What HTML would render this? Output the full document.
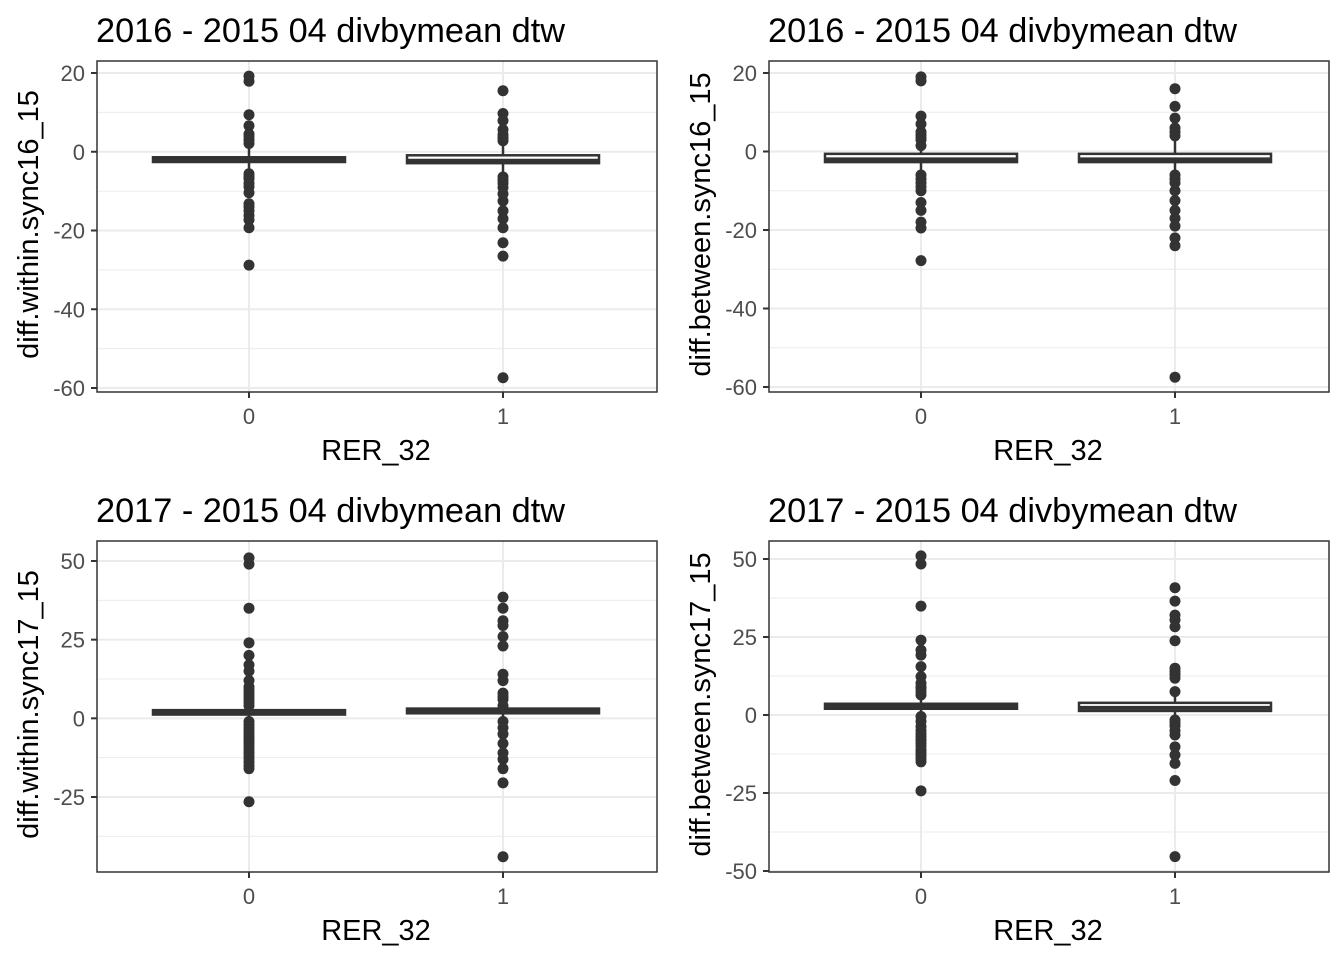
<!DOCTYPE html>
<html><head><meta charset="utf-8"><style>
body{margin:0;background:#fff;}
svg{display:block;font-family:"Liberation Sans",Arial,sans-serif;}
</style></head><body>
<svg id="chart" width="1344" height="960" viewBox="0 0 1344 960"></svg>
<script>
const categories = ["0","1"];
const titles = ["2016 - 2015 04 divbymean dtw","2016 - 2015 04 divbymean dtw","2017 - 2015 04 divbymean dtw","2017 - 2015 04 divbymean dtw"];
const yTitles = ["diff.within.sync16_15","diff.between.sync16_15","diff.within.sync17_15","diff.between.sync17_15"];
const yTicks1 = [20,0,-20,-40,-60];
const yTicks3 = [50,25,0,-25];
const yTicks4 = [50,25,0,-25,-50];
// box stats per panel per category: [q1, median, q3]
const boxP1 = [[-2.6,-2.0,-1.4],[-2.9,-2.3,-0.9]];
const boxP2 = [[-2.7,-2.0,-0.6],[-2.7,-2.0,-0.6]];
const boxP3 = [[1.2,1.9,2.6],[1.6,2.3,3.1]];
const boxP4 = [[2.0,2.8,3.6],[1.3,2.3,3.9]];
const outP1 = [[19.2,17.9,9.4,6.6,4.5,3.8,3.0,2.1,-5.6,-6.3,-6.9,-8.0,-8.9,-10.4,-13.2,-14,-15,-16.2,-17.3,-19.3,-28.8],
               [15.5,9.7,7.9,5.6,4.3,3.5,2.8,-6.4,-7.2,-8.0,-9.1,-10.7,-12.5,-15,-17,-19.3,-23.1,-26.5,-57.4]];
const outP2 = [[19,18,9,7,5,4.2,3.5,3,1.5,-6,-7,-8,-9,-10,-13,-15,-18,-19.5,-27.8],
               [16,11.5,8.5,6,5,4,-6,-7,-8,-10,-12.5,-15,-17,-19,-22,-24,-57.5]];
const outP3 = [[51,49,35,24,20,17,15,12,10,9,8,7,6,5,4,-1,-2,-3,-4,-5,-6,-7,-8,-9,-10,-11,-12,-13,-14,-15,-16,-26.5],
               [38.5,35,31,29.5,26,23,14,12,8,7,6,4,-1,-3,-5,-8,-11,-13,-16,-20.5,-44]];
const outP4 = [[51,48.4,34.9,24,20.8,19.2,15.5,12.3,10.2,9,8.5,7.5,6.4,-0.5,-2,-3.7,-5,-6,-7,-8,-9,-10,-11.2,-12,-13,-14,-15,-24.3],
               [40.8,36.5,32,30.5,28.3,23.8,15,14,13,11.8,7.5,-1.6,-2.5,-3.5,-5,-6.4,-10.2,-12.8,-15.5,-21,-45.4]];

const NS="http://www.w3.org/2000/svg";
const svg=document.getElementById('chart');
function mk(tag,attrs,parent){const e=document.createElementNS(NS,tag);for(const k in attrs)e.setAttribute(k,attrs[k]);(parent||svg).appendChild(e);return e;}

const panels=[
 {x0:97,y0:61,ticks:yTicks1,vTop:20,pTop:73,vBot:-60,pBot:388,box:boxP1,out:outP1,minor:[10,-10,-30,-50]},
 {x0:769,y0:61,ticks:yTicks1,vTop:20,pTop:73,vBot:-60,pBot:387,box:boxP2,out:outP2,minor:[10,-10,-30,-50]},
 {x0:97,y0:541,ticks:yTicks3,vTop:50,pTop:561,vBot:-25,pBot:797,box:boxP3,out:outP3,minor:[37.5,12.5,-12.5,-37.5]},
 {x0:769,y0:541,ticks:yTicks4,vTop:50,pTop:559,vBot:-50,pBot:871,box:boxP4,out:outP4,minor:[37.5,12.5,-12.5,-37.5]}
];
const W=560,H=331;
panels.forEach((p,i)=>{
  const g=mk('g',{});
  
  
  const y=v=>p.pTop+(p.vTop-v)*(p.pBot-p.pTop)/(p.vTop-p.vBot);
  const x=c=>p.x0+152+c*254;
  p.minor.forEach(v=>{const yy=y(v);if(yy>p.y0&&yy<p.y0+H){const l=mk('line',{x1:p.x0,x2:p.x0+W,y1:yy,y2:yy,stroke:'#ebebeb','stroke-width':1},g);}});
  p.ticks.forEach(v=>{const l=mk('line',{x1:p.x0,x2:p.x0+W,y1:y(v),y2:y(v),stroke:'#ebebeb','stroke-width':2},g);});
  categories.forEach((c,ci)=>{const l=mk('line',{x1:x(ci),x2:x(ci),y1:p.y0,y2:p.y0+H,stroke:'#ebebeb','stroke-width':2},g);});
  categories.forEach((c,ci)=>{
    const b=p.box[ci];
    const pos=p.out[ci].filter(v=>v>b[2]),neg=p.out[ci].filter(v=>v<b[0]);
    const wl=mk('line',{x1:x(ci),x2:x(ci),y1:y(pos.length?Math.min(...pos):b[2]),y2:y(b[2]),stroke:'#333','stroke-width':2.5},g);
    
    const wl2=mk('line',{x1:x(ci),x2:x(ci),y1:y(b[0]),y2:y(neg.length?Math.max(...neg):b[0]),stroke:'#333','stroke-width':2.5},g);
    
    const r=mk('rect',{x:x(ci)-96,y:y(b[2]),width:192,height:Math.max(2,y(b[0])-y(b[2])),fill:'#fff',stroke:'#333','stroke-width':2.5},g);
    
    const m=mk('line',{x1:x(ci)-96,x2:x(ci)+96,y1:y(b[1]),y2:y(b[1]),stroke:'#333','stroke-width':4},g);
    
    p.out[ci].forEach(v=>{const o=mk('circle',{cx:x(ci),cy:y(v),r:5.5,fill:'#333'},g);});
  });
  const fr=mk('rect',{x:p.x0,y:p.y0,width:W,height:H,fill:'none',stroke:'#333','stroke-width':1.5},g);
  
  p.ticks.forEach(v=>{
    mk('line',{x1:p.x0-6,x2:p.x0,y1:y(v),y2:y(v),stroke:'#333','stroke-width':2},g);
    const t=mk('text',{x:p.x0-12,y:y(v)+8,'text-anchor':'end','font-size':22,fill:'#4d4d4d'},g);
    t.textContent=v;
  });
  categories.forEach((c,ci)=>{
    mk('line',{x1:x(ci),x2:x(ci),y1:p.y0+H,y2:p.y0+H+6,stroke:'#333','stroke-width':2},g);
    const t=mk('text',{x:x(ci),y:p.y0+H+32,'text-anchor':'middle','font-size':22,fill:'#4d4d4d'},g);
    t.textContent=c;
  });
  const xt=mk('text',{x:p.x0+W/2-1,y:p.y0+H+68,'text-anchor':'middle','font-size':29,fill:'#000'},g);
  xt.textContent='RER_32';
  const yt=mk('text',{transform:`translate(${p.x0-59},${p.y0+H/2-2}) rotate(-90)`,'text-anchor':'middle','font-size':29,fill:'#000'},g);
  yt.textContent=yTitles[i];
  const tt=mk('text',{x:p.x0-1,y:p.y0-19,'font-size':34.3,fill:'#000'},g);
  tt.textContent=titles[i];
});
</script>
</body></html>
